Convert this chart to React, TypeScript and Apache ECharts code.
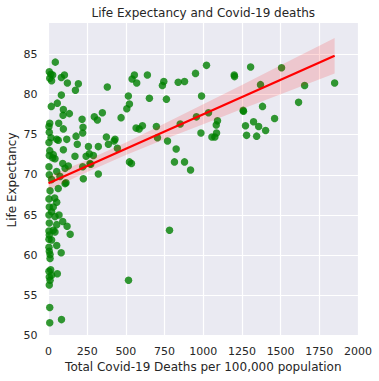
import React, { useEffect, useRef } from "react";
import * as echarts from "echarts";

const deaths = [
  44, 5, 15, 27, 8, 20, 83, 103, 122, 193, 174, 83, 57, 18, 96, 94, 135, 66, 8, 96,
  217, 223, 221, 178, 118, 53, 296, 316, 348, 380, 374, 430, 469, 516, 506, 523, 540, 555, 570, 639,
  652, 736, 745, 762, 838, 879, 950, 1021, 989, 1034, 956, 1200, 1202, 1258, 1260, 1092, 1084, 1086, 1075, 1056,
  985, 851, 697, 607, 586, 566, 704, 769, 825, 814, 879, 918, 523, 536, 1306, 1506, 1370, 1655, 1849, 1616,
  1383, 1461, 1325, 1358, 1273, 1403, 1280, 1345, 782, 517, 16, 63, 186, 258, 322, 424, 445, 96, 171, 243,
  264, 290, 221, 273, 322, 225, 31, 42, 92, 107, 53, 74, 63, 107, 27, 20, 10, 40, 53, 31,
  20, 42, 68, 92, 120, 53, 31, 140, 42, 20, 53, 82, 10, 10, 14, 20, 57, 10, 5, 8,
  8, 84, 3, 5, 3, 5, 3, 5, 3, 5, 3, 5, 3, 5, 3, 5, 3, 5, 3, 8,
  387, 128, 268, 113
];
const lifeExp = [
  84.0, 82.8, 82.5, 82.4, 82.0, 81.7, 82.1, 82.4, 81.4, 81.3, 80.5, 79.9, 78.9, 78.5, 78.1, 77.4, 77.6, 76.4, 76.4, 75.7,
  76.9, 75.9, 75.2, 74.8, 74.4, 74.4, 77.2, 76.8, 77.7, 80.9, 74.7, 74.4, 77.1, 79.8, 78.2, 78.8, 81.9, 82.4, 81.4, 82.4,
  79.5, 81.1, 81.6, 79.4, 81.5, 81.6, 82.6, 83.6, 79.8, 77.7, 77.2, 82.4, 82.2, 78.0, 77.9, 76.7, 76.2, 75.2, 74.7, 74.7,
  75.2, 76.3, 76.0, 76.1, 75.7, 75.8, 74.6, 74.2, 73.2, 71.6, 71.6, 70.6, 71.6, 71.4, 83.4, 83.3, 81.2, 81.1, 81.4, 79.0,
  78.5, 77.0, 76.6, 76.0, 76.1, 75.5, 74.9, 74.8, 63.1, 56.9, 74.6, 74.3, 73.8, 73.5, 73.5, 74.2, 73.3, 73.1, 72.3, 72.3,
  72.6, 72.4, 71.0, 71.3, 70.1, 69.5, 72.5, 72.0, 71.4, 70.8, 70.4, 69.8, 68.3, 68.9, 72.1, 69.4, 68.0, 67.1, 66.6, 66.0,
  65.4, 64.8, 65.0, 64.2, 63.6, 63.8, 63.1, 62.6, 62.9, 61.9, 61.2, 60.3, 59.6, 60.1, 58.2, 57.5, 57.7, 56.9, 56.3, 53.5,
  51.6, 52.0, 76.0, 75.3, 74.0, 72.4, 71.0, 70.0, 67.0, 66.0, 65.0, 64.0, 63.0, 62.5, 61.0, 60.5, 58.0, 57.3, 62.0, 73.0,
  73.8, 71.1, 71.4, 69.0
];

const regDeaths = [0, 1849];
const regLife = [68.95, 84.8];

const bandDeaths = [0, 250, 500, 750, 1000, 1250, 1500, 1849];
const bandLower = [68.1, 70.34, 72.47, 74.4, 76.27, 78.16, 80.0, 82.6];
const bandUpper = [69.8, 71.84, 74.0, 76.36, 78.77, 81.16, 83.6, 87.0];

const xTicks = [0, 250, 500, 750, 1000, 1250, 1500, 1750, 2000];
const yTicks = [50, 55, 60, 65, 70, 75, 80, 85];

const TITLE = "Life Expectancy and Covid-19 deaths";
const X_NAME = "Total Covid-19 Deaths per 100,000 population";
const Y_NAME = "Life Expectancy";

export default function App() {
  const ref = useRef<HTMLDivElement>(null);
  useEffect(() => {
    if (!ref.current) return;
    const chart = echarts.init(ref.current, undefined, { renderer: "svg" });
    const font = "DejaVu Sans";
    const textColor = "#262626";
    const gridL = 48.5, gridR = 21, gridT = 22.7, gridB = 45.3;
    const scatterData = deaths.map((d, i) => [d, lifeExp[i]]);
    const regData = regDeaths.map((d, i) => [d, regLife[i]]);
    chart.setOption({
      animation: false,
      backgroundColor: "#ffffff",
      textStyle: { fontFamily: font },
      grid: {
        left: gridL, right: gridR, top: gridT, bottom: gridB,
        show: true, backgroundColor: "#EAEAF2", borderWidth: 0,
      },
      xAxis: {
        type: "value",
        min: xTicks[0],
        max: xTicks[xTicks.length - 1],
        interval: 250,
        axisLine: { show: false },
        axisTick: { show: false },
        axisLabel: {
          color: textColor, fontSize: 11, fontFamily: font, margin: 10,
          formatter: (v: number) => String(v),
        },
        splitLine: { show: true, lineStyle: { color: "#ffffff", width: 1.2 } },
      },
      yAxis: {
        type: "value",
        min: yTicks[0],
        max: 88.9,
        interval: 5,
        axisLine: { show: false },
        axisTick: { show: false },
        axisLabel: {
          color: textColor, fontSize: 11, fontFamily: font, margin: 11,
          formatter: (v: number) => (yTicks.includes(v) ? String(v) : ""),
        },
        splitLine: { show: true, lineStyle: { color: "#ffffff", width: 1.2 } },
      },
      graphic: [
        {
          type: "text", x: 203.3, y: 13, z: 10,
          style: { text: TITLE, fill: textColor, font: `12px ${font}`, textAlign: "center", textVerticalAlign: "middle" },
        },
        {
          type: "text", x: 203.3, y: 366.5, z: 10,
          style: { text: X_NAME, fill: textColor, font: `12px ${font}`, textAlign: "center", textVerticalAlign: "middle" },
        },
        {
          type: "text", x: 12, y: 180, rotation: Math.PI / 2, z: 10,
          style: { text: Y_NAME, fill: textColor, font: `12px ${font}`, textAlign: "center", textVerticalAlign: "middle" },
        },
      ],
      series: [
        {
          type: "scatter",
          data: scatterData,
          symbolSize: 7.5,
          itemStyle: { color: "rgba(0,128,0,0.8)", opacity: 1 },
          z: 2,
        },
        {
          type: "custom",
          data: [[0, 0]],
          z: 3,
          silent: true,
          renderItem: (params: any, api: any) => {
            const up = bandDeaths.map((d, i) => api.coord([d, bandUpper[i]]));
            const lo = bandDeaths.map((d, i) => api.coord([d, bandLower[i]])).reverse();
            return {
              type: "polygon",
              shape: { points: up.concat(lo) },
              style: { fill: "rgba(255,0,0,0.15)", stroke: "none" },
            };
          },
        },
        {
          type: "line",
          data: regData,
          showSymbol: false,
          symbol: "none",
          lineStyle: { color: "#ff0000", width: 2.2 },
          z: 4,
        },
      ],
    });
    return () => chart.dispose();
  }, []);
  return (
    <div
      ref={ref}
      style={{ position: "fixed", left: 0, top: 0, width: 379, height: 381 }}
    />
  );
}
